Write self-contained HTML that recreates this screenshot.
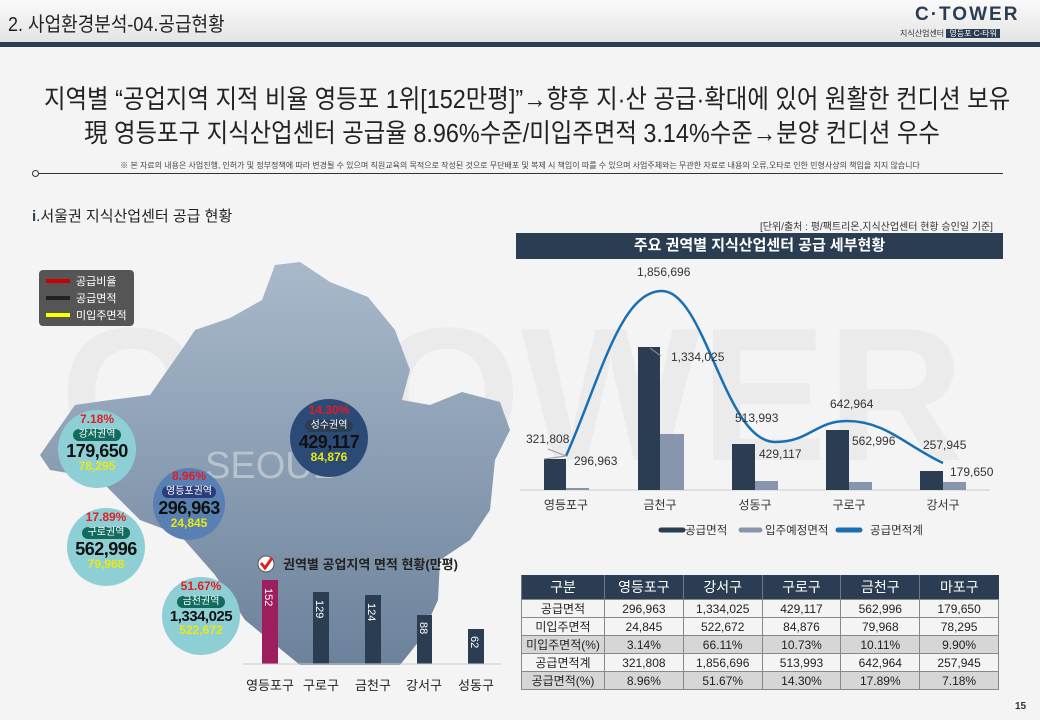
<!DOCTYPE html>
<html><head><meta charset="utf-8"><style>
body{margin:0;width:1040px;height:720px;overflow:hidden;background:#f4f4f4;font-family:"Liberation Sans","Noto Sans CJK KR",sans-serif;position:relative}
.a{position:absolute;white-space:nowrap}
table{border-collapse:collapse;font-size:12px;color:#222;table-layout:fixed}
td{border:1px solid #888;text-align:center;height:17px;padding:0;white-space:nowrap}
th{background:#2b3d52;color:#fff;font-weight:normal;height:22px;font-size:14px;border-left:1px solid #6a7a8c}
.g td{background:#d6d6d6}
.c{position:absolute;border-radius:50%;text-align:center;font-weight:bold;line-height:1;white-space:nowrap}
.c .p{color:#e31c23;font-size:12px}
.c .n{color:#111;font-size:18px;letter-spacing:-0.5px}
.c .y{color:#e8e817;font-size:12px}
.c .t{display:inline-block;color:#fff;font-size:10px;padding:1px 6px;border-radius:7px;font-weight:normal;margin:1px 0}
</style></head><body>
<div class="a" style="left:0;top:0;width:1040px;height:42px;background:linear-gradient(#fafafa,#e4e4e4)"></div>
<div class="a" style="left:0;top:42px;width:1040px;height:5px;background:#2b3d52"></div>
<div class="a" style="left:8px;top:8px;font-size:20px;color:#222;transform:scaleX(.9);transform-origin:left">2. 사업환경분석-04.공급현황</div>
<div class="a" style="left:915px;top:4px;font-size:19px;font-weight:bold;color:#2b3d52;letter-spacing:2px">C·TOWER</div>
<div class="a" style="left:900px;top:28px;font-size:8px;color:#333">지식산업센터 <span style="background:#2b3d52;color:#fff;padding:0 3px">영등포 C-타워</span></div>
<div class="a" style="left:-8px;top:82px;width:1040px;text-align:center;font-size:26px;color:#222;line-height:34px;transform:scaleX(.9);transform-origin:center">지역별 “공업지역 지적 비율 영등포 1위[152만평]”→향후 지·산 공급·확대에 있어 원활한 컨디션 보유<br>現 영등포구 지식산업센터 공급율 8.96%수준/미입주면적 3.14%수준→분양 컨디션 우수</div>
<div class="a" style="left:0;top:160px;width:1040px;text-align:center;font-size:8px;color:#444">※ 본 자료의 내용은 사업진행, 인허가 및 정부정책에 따라 변경될 수 있으며 직원교육의 목적으로 작성된 것으로 무단배포 및 복제 시 책임이 따를 수 있으며 사업주체와는 무관한 자료로 내용의 오류,오타로 인한 민형사상의 책임을 지지 않습니다</div>
<div class="a" style="left:38px;top:173px;width:965px;height:1px;background:#333"></div>
<div class="a" style="left:32px;top:170px;width:5px;height:5px;border:1px solid #333;border-radius:50%"></div>
<div class="a" style="left:32px;top:205px;font-size:15px;color:#222"><b style="color:#2b3d52">i</b>.서울권 지식산업센터 공급 현황</div>
<div class="a" style="left:760px;top:218px;font-size:10px;color:#333">[단위/출처 : 평/팩트리온,지식산업센터 현황 승인일 기준]</div>
<div class="a" style="left:516px;top:233px;width:487px;height:26px;background:#2b3d52;color:#fff;font-size:15px;font-weight:bold;text-align:center;line-height:26px">주요 권역별 지식산업센터 공급 세부현황</div>

<svg class="a" style="left:0;top:0" width="1040" height="720">
<defs><linearGradient id="m" x1="0" y1="0" x2="0" y2="1"><stop offset="0" stop-color="#a9b9cb"/><stop offset="1" stop-color="#6c829b"/></linearGradient></defs>
<text x="60" y="460" font-size="190" fill="#ebebeb" font-family="Liberation Sans" font-weight="bold">C·TOWER</text>
<polygon fill="url(#m)" points="40,455 75,405 110,400 150,395 185,345 195,330 230,318 262,300 275,265 300,262 330,282 368,297 395,330 410,370 402,400 430,405 462,392 500,402 510,430 495,460 490,510 470,540 440,560 438,600 420,640 400,665 300,665 245,620 215,575 180,535 140,520 100,480 80,475 50,470"/>
<text x="205" y="478" font-size="38" fill="#b9c3ce" font-family="Liberation Sans">SEOUL</text>
<rect x="39" y="270" width="95" height="56" rx="4" fill="#555"/>
<g stroke-width="4"><line x1="46" y1="281" x2="70" y2="281" stroke="#c00"/><line x1="46" y1="298" x2="70" y2="298" stroke="#222"/><line x1="46" y1="315" x2="70" y2="315" stroke="#ff0"/></g>
<g font-size="11" fill="#fff"><text x="76" y="285">공급비율</text><text x="76" y="302">공급면적</text><text x="76" y="319">미입주면적</text></g>
<g fill="#2b3d52"><rect x="262" y="580" width="16" height="84" fill="#9c1e5c"/><rect x="313" y="592" width="16" height="72"/><rect x="365" y="595" width="16" height="69"/><rect x="417" y="615" width="15" height="49"/><rect x="468" y="629" width="16" height="35"/></g>
<line x1="243" y1="664" x2="501" y2="664" stroke="#ccc"/>
<g font-size="11" fill="#fff"><text transform="translate(265,588) rotate(90)">152</text><text transform="translate(316,600) rotate(90)">129</text><text transform="translate(368,603) rotate(90)">124</text><text transform="translate(420,622) rotate(90)">88</text><text transform="translate(471,636) rotate(90)">62</text></g>
<g font-size="13" fill="#222" text-anchor="middle"><text x="270" y="690">영등포구</text><text x="321" y="690">구로구</text><text x="373" y="690">금천구</text><text x="424" y="690">강서구</text><text x="476" y="690">성동구</text></g>
<circle cx="266" cy="564" r="8" fill="#fff" stroke="#555"/><path d="M261,563 l4,5 l7,-10" stroke="#d22" stroke-width="3" fill="none"/>
<text x="283" y="569" font-size="13" font-weight="bold" fill="#222">권역별 공업지역 면적 현황(만평)</text>
<line x1="520" y1="490" x2="990" y2="490" stroke="#ccc"/>
<g fill="#2b3d52"><rect x="544" y="459" width="22" height="31"/><rect x="638" y="347" width="22" height="143"/><rect x="732" y="444" width="23" height="46"/><rect x="826" y="430" width="23" height="60"/><rect x="920" y="471" width="23" height="19"/></g>
<g fill="#8896ad"><rect x="566" y="488" width="23" height="2"/><rect x="660" y="434" width="24" height="56"/><rect x="755" y="481" width="23" height="9"/><rect x="849" y="482" width="23" height="8"/><rect x="943" y="482" width="23" height="8"/></g>
<path d="M566,456 C600,380 620,291 662,291 C705,291 725,442 775,442 C810,442 815,421 847,421 C885,421 905,445 943,463" stroke="#1a6fb3" stroke-width="2.5" fill="none"/>
<g stroke="#999" fill="none"><path d="M548,449 L566,456 L544,459"/><path d="M650,348 L661,356"/></g>
<g font-size="12" fill="#333"><text x="526" y="443">321,808</text><text x="574" y="465">296,963</text><text x="637" y="276">1,856,696</text><text x="671" y="361">1,334,025</text><text x="735" y="422">513,993</text><text x="759" y="458">429,117</text><text x="830" y="408">642,964</text><text x="852" y="445">562,996</text><text x="923" y="449">257,945</text><text x="950" y="476">179,650</text></g>
<g font-size="12" fill="#333" text-anchor="middle"><text x="566" y="509">영등포구</text><text x="660" y="509">금천구</text><text x="755" y="509">성동구</text><text x="849" y="509">구로구</text><text x="943" y="509">강서구</text></g>
<g stroke-width="5" stroke-linecap="round"><line x1="661" y1="530" x2="683" y2="530" stroke="#2b3d52"/><line x1="741" y1="530" x2="760" y2="530" stroke="#8896ad"/><line x1="838" y1="530" x2="860" y2="530" stroke="#1a6fb3"/></g>
<g font-size="11.5" fill="#333"><text x="685" y="534">공급면적</text><text x="765" y="534">입주예정면적</text><text x="870" y="534">공급면적계</text></g>
</svg>

<div class="c" style="left:58px;top:410px;width:78px;height:78px;background:#8ecfd5"><div style="margin-top:3px" class="p">7.18%</div><div class="t" style="background:#116b5e">강서권역</div><div class="n">179,650</div><div class="y">78,295</div></div>
<div class="c" style="left:67px;top:508px;width:78px;height:78px;background:#8ecfd5"><div style="margin-top:3px" class="p">17.89%</div><div class="t" style="background:#116b5e">구로권역</div><div class="n">562,996</div><div class="y">79,968</div></div>
<div class="c" style="left:153px;top:468px;width:72px;height:72px;background:#5880b2"><div style="margin-top:2px" class="p">8.96%</div><div class="t" style="background:#2b3d7a;padding:1px 4px">영등포권역</div><div class="n">296,963</div><div class="y">24,845</div></div>
<div class="c" style="left:162px;top:577px;width:78px;height:78px;background:#8ecfd5"><div style="margin-top:3px" class="p">51.67%</div><div class="t" style="background:#116b5e">금천권역</div><div class="n" style="font-size:15px">1,334,025</div><div class="y">522,672</div></div>
<div class="c" style="left:290px;top:399px;width:78px;height:78px;background:#2b4a75"><div style="margin-top:5px" class="p">14.30%</div><div class="t" style="background:#2b3d52">성수권역</div><div class="n">429,117</div><div class="y">84,876</div></div>

<table class="a" style="left:521px;top:575px;width:478px">
<tr><th style="width:80px">구분</th><th>영등포구</th><th>강서구</th><th>구로구</th><th>금천구</th><th>마포구</th></tr>
<tr><td>공급면적</td><td>296,963</td><td>1,334,025</td><td>429,117</td><td>562,996</td><td>179,650</td></tr>
<tr><td>미입주면적</td><td>24,845</td><td>522,672</td><td>84,876</td><td>79,968</td><td>78,295</td></tr>
<tr class="g"><td>미입주면적(%)</td><td>3.14%</td><td>66.11%</td><td>10.73%</td><td>10.11%</td><td>9.90%</td></tr>
<tr><td>공급면적계</td><td>321,808</td><td>1,856,696</td><td>513,993</td><td>642,964</td><td>257,945</td></tr>
<tr class="g"><td>공급면적(%)</td><td>8.96%</td><td>51.67%</td><td>14.30%</td><td>17.89%</td><td>7.18%</td></tr>
</table>
<div class="a" style="left:1015px;top:701px;font-size:10px;color:#333;font-weight:bold">15</div>
</body></html>
